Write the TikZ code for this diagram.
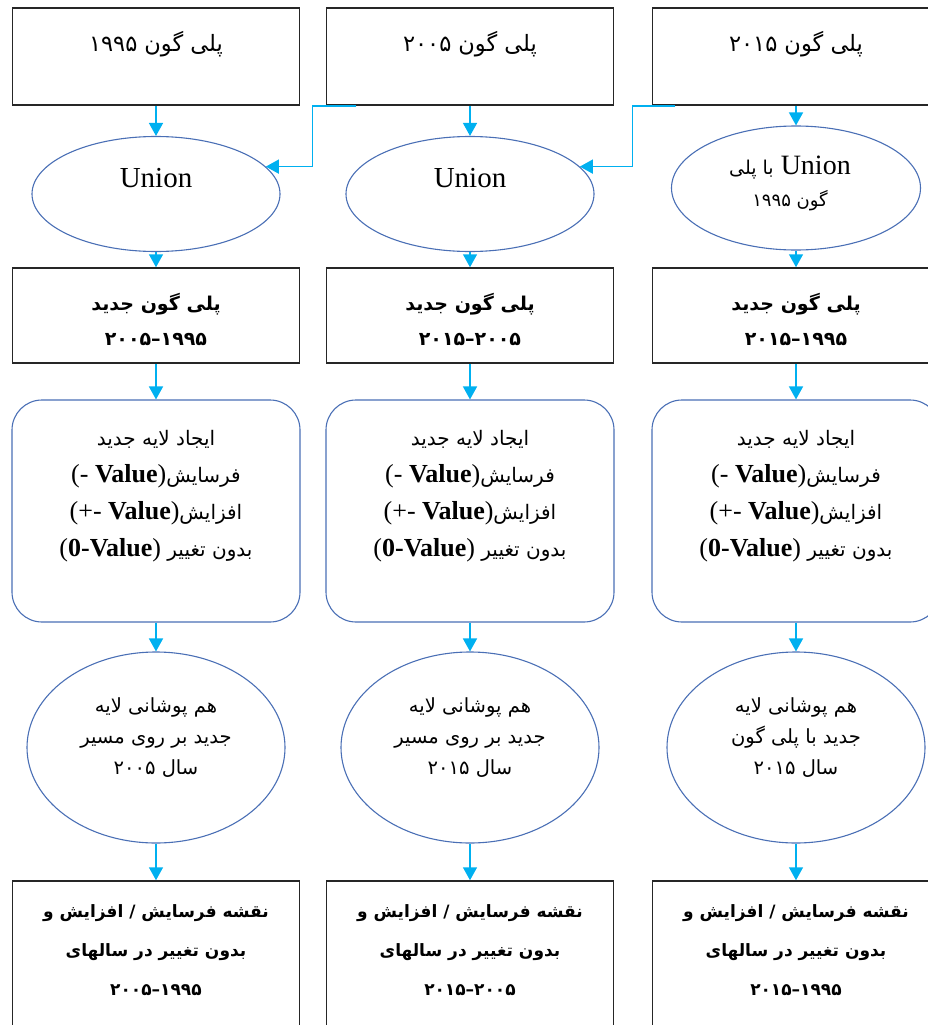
\documentclass[tikz,border=0pt]{standalone}
\usepackage{fontspec}
\setmainfont{Liberation Serif}
\newfontfamily\arabicfont[Script=Arabic]{DejaVu Sans}
\TeXXeTstate=1
\usetikzlibrary{arrows.meta, shapes.geometric}

\definecolor{flowcyan}{HTML}{00B0F0}
\definecolor{shapeblue}{HTML}{4A6FB5}

\newcommand{\lat}[1]{{\rmfamily\fontsize{26}{37}\selectfont #1}}
\newcommand{\dash}{\kern0pt–\kern0pt}

\tikzset{
  plainbox/.style={draw=black!85, line width=1.5pt, minimum width=287pt, inner sep=0pt},
  oval/.style={ellipse, draw=shapeblue, line width=1.1pt, inner sep=0pt},
  roundbox/.style={rectangle, rounded corners=30pt, draw=shapeblue, line width=1.1pt,
    minimum width=288pt, minimum height=222pt, inner sep=0pt},
  txt/.style={anchor=center, align=center, inner sep=0pt,
    font=\arabicfont\fontsize{20}{33}\selectfont},
  boldtxt/.style={txt, font=\arabicfont\bfseries\fontsize{19}{35}\selectfont},
  flow/.style={draw=flowcyan, line width=1.5pt, -{Triangle[length=13pt, width=14pt]}},
}

\begin{document}
\begin{tikzpicture}[x=1pt, y=-1pt]
        \useasboundingbox (0,0) rectangle (928,1025);
        \clip (0,0) rectangle (928,1025);
        % nodes
        \node[plainbox, minimum height=97pt, label={[txt, font=\arabicfont\fontsize{22.5}{33}\selectfont, yshift=-37pt]north:{\beginR پلی گون ۱۹۹۵\endR}}] (top1) at (156,56.5) {};
        \node[plainbox, minimum height=97pt, label={[txt, font=\arabicfont\fontsize{22.5}{33}\selectfont, yshift=-37pt]north:{\beginR پلی گون ۲۰۰۵\endR}}] (top2) at (470,56.5) {};
        \node[plainbox, minimum height=97pt, label={[txt, font=\arabicfont\fontsize{22.5}{33}\selectfont, yshift=-37pt]north:{\beginR پلی گون ۲۰۱۵\endR}}] (top3) at (796,56.5) {};
        \node[oval, minimum width=248pt, minimum height=115pt, label={[txt, font=\fontsize{29}{32}\selectfont, yshift=-42pt]north:Union}] (uni1) at (156,194) {};
        \node[oval, minimum width=248pt, minimum height=115pt, label={[txt, font=\fontsize{29}{32}\selectfont, yshift=-42pt]north:Union}] (uni2) at (470,194) {};
        \node[oval, minimum width=249pt, minimum height=124pt, label={[txt, font=\fontsize{28}{32}\selectfont, xshift=-6pt, yshift=-58pt]north:{\beginR Union {\arabicfont\fontsize{19}{32}\selectfont با پلی}\endR\\{\arabicfont\fontsize{18}{32}\selectfont\beginR گون ۱۹۹۵\endR}}}] (uni3) at (796,188) {};
        \node[plainbox, minimum height=95pt, label={[boldtxt, yshift=-52.5pt]north:{\beginR پلی گون جدید\endR\\\beginR ۱۹۹۵\dash۲۰۰۵\endR}}] (new1) at (156,315.5) {};
        \node[plainbox, minimum height=95pt, label={[boldtxt, yshift=-52.5pt]north:{\beginR پلی گون جدید\endR\\\beginR ۲۰۰۵\dash۲۰۱۵\endR}}] (new2) at (470,315.5) {};
        \node[plainbox, minimum height=95pt, label={[boldtxt, yshift=-52.5pt]north:{\beginR پلی گون جدید\endR\\\beginR ۱۹۹۵\dash۲۰۱۵\endR}}] (new3) at (796,315.5) {};
        \node[roundbox, label={[txt, font=\arabicfont\fontsize{20}{37}\selectfont, yshift=-97pt]north:{\beginR ایجاد لایه جدید\endR\\\beginR فرسایش\beginL\lat{(- \textbf{Value})}\endL\endR\\\beginR افزایش\beginL\lat{(+- \textbf{Value})}\endL\endR\\\beginR بدون تغییر \beginL\lat{(\textbf{0-Value})}\endL\endR}}] (lay1) at (156,511) {};
        \node[roundbox, label={[txt, font=\arabicfont\fontsize{20}{37}\selectfont, yshift=-97pt]north:{\beginR ایجاد لایه جدید\endR\\\beginR فرسایش\beginL\lat{(- \textbf{Value})}\endL\endR\\\beginR افزایش\beginL\lat{(+- \textbf{Value})}\endL\endR\\\beginR بدون تغییر \beginL\lat{(\textbf{0-Value})}\endL\endR}}] (lay2) at (470,511) {};
        \node[roundbox, label={[txt, font=\arabicfont\fontsize{20}{37}\selectfont, yshift=-97pt]north:{\beginR ایجاد لایه جدید\endR\\\beginR فرسایش\beginL\lat{(- \textbf{Value})}\endL\endR\\\beginR افزایش\beginL\lat{(+- \textbf{Value})}\endL\endR\\\beginR بدون تغییر \beginL\lat{(\textbf{0-Value})}\endL\endR}}] (lay3) at (796,511) {};
        \node[oval, minimum width=258pt, minimum height=191pt, label={[txt, font=\arabicfont\fontsize{19.5}{31}\selectfont, yshift=-86pt]north:{\beginR هم پوشانی لایه\endR\\\beginR جدید بر روی مسیر\endR\\\beginR سال ۲۰۰۵\endR}}] (ovl1) at (156,747.5) {};
        \node[oval, minimum width=258pt, minimum height=191pt, label={[txt, font=\arabicfont\fontsize{19.5}{31}\selectfont, yshift=-86pt]north:{\beginR هم پوشانی لایه\endR\\\beginR جدید بر روی مسیر\endR\\\beginR سال ۲۰۱۵\endR}}] (ovl2) at (470,747.5) {};
        \node[oval, minimum width=258pt, minimum height=191pt, label={[txt, font=\arabicfont\fontsize{19.5}{31}\selectfont, yshift=-86pt]north:{\beginR هم پوشانی لایه\endR\\\beginR جدید با پلی گون\endR\\\beginR سال ۲۰۱۵\endR}}] (ovl3) at (796,747.5) {};
        \node[plainbox, minimum height=170pt, label={[boldtxt, font=\arabicfont\bfseries\fontsize{17}{39}\selectfont, yshift=-70pt]north:{\beginR نقشه فرسایش / افزایش و\endR\\\beginR بدون تغییر در سالهای\endR\\\beginR ۱۹۹۵\dash۲۰۰۵\endR}}] (map1) at (156,966) {};
        \node[plainbox, minimum height=170pt, label={[boldtxt, font=\arabicfont\bfseries\fontsize{17}{39}\selectfont, yshift=-70pt]north:{\beginR نقشه فرسایش / افزایش و\endR\\\beginR بدون تغییر در سالهای\endR\\\beginR ۲۰۰۵\dash۲۰۱۵\endR}}] (map2) at (470,966) {};
        \node[plainbox, minimum height=170pt, label={[boldtxt, font=\arabicfont\bfseries\fontsize{17}{39}\selectfont, yshift=-70pt]north:{\beginR نقشه فرسایش / افزایش و\endR\\\beginR بدون تغییر در سالهای\endR\\\beginR ۱۹۹۵\dash۲۰۱۵\endR}}] (map3) at (796,966) {};
        % arrows
        \draw[flow] (top1) -- (uni1);
        \draw[flow] (top2) -- (uni2);
        \draw[flow] (top3) -- (uni3);
        \draw[flow] ([xshift=30.5pt]top2.south west) -- ++(-44,0) |- (uni1.14);
        \draw[flow] ([xshift=23.5pt]top3.south west) -- ++(-43,0) |- (uni2.14);
        \draw[flow] (uni1) -- (new1);
        \draw[flow] (uni2) -- (new2);
        \draw[flow] (uni3) -- (new3);
        \draw[flow] (new1) -- (lay1);
        \draw[flow] (new2) -- (lay2);
        \draw[flow] (new3) -- (lay3);
        \draw[flow] (lay1) -- (ovl1);
        \draw[flow] (lay2) -- (ovl2);
        \draw[flow] (lay3) -- (ovl3);
        \draw[flow] (ovl1) -- (map1);
        \draw[flow] (ovl2) -- (map2);
        \draw[flow] (ovl3) -- (map3);
\end{tikzpicture}
\end{document}
